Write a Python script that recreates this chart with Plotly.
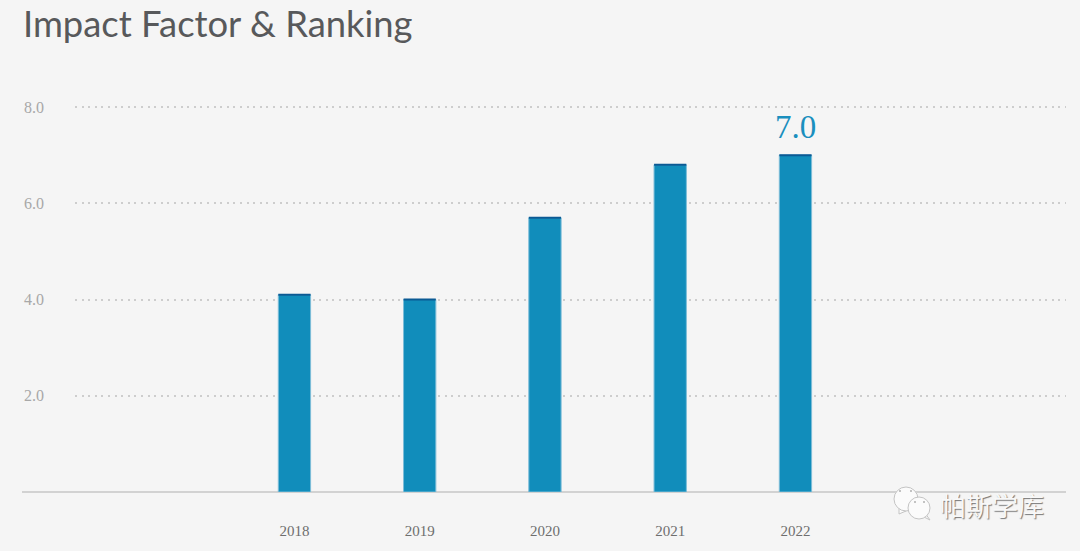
import plotly.graph_objects as go

years = ["2018", "2019", "2020", "2021", "2022"]
impact = [4.1, 4.0, 5.7, 6.8, 7.0]
label_year = "2022"
label_value = 7.0
label_text = "7.0"
y_ticks = [2, 4, 6, 8]
y_tick_labels = ["2.0", "4.0", "6.0", "8.0"]
title_text = "Impact Factor &amp; Ranking"
watermark_text = "帕斯学库"

W, H = 1080, 551
L, R, T, B = 75, 1066, 97, 492
PX_PER_UNIT = (492 - 107) / 8
px = lambda x: (x - L) / (R - L)
py = lambda y: (B - y) / (B - T)

fig = go.Figure()
fig.add_bar(x=years, y=impact, width=0.258,
            marker=dict(color="#118dbb", line=dict(color="#7dbdd8", width=1)),
            showlegend=False, hoverinfo="skip")
fig.add_scatter(x=years, y=impact, mode="markers",
                marker=dict(symbol="line-ew", size=23, color="#0b5a94",
                            line=dict(color="#0b5a94", width=2)),
                showlegend=False, hoverinfo="skip", cliponaxis=False)

shapes = [dict(type="line", xref="paper", yref="paper", x0=px(22), x1=px(1066), y0=0, y1=0,
               line=dict(color="#d2d2d2", width=2), layer="below")]

def bubble(cx, cy, r):
    return dict(type="circle", xref="paper", yref="paper",
                x0=px(cx - r), x1=px(cx + r), y0=py(cy + r), y1=py(cy - r),
                fillcolor="#fbfbfb", line=dict(color="#c4c4c4", width=1))

def tail(x0, y0, x1, y1, x2, y2):
    path = f"M {px(x0)} {py(y0)} L {px(x1)} {py(y1)} L {px(x2)} {py(y2)} Z"
    return dict(type="path", xref="paper", yref="paper", path=path,
                fillcolor="#fbfbfb", line=dict(color="#c4c4c4", width=1))

def dot(cx, cy):
    r = 1
    return dict(type="circle", xref="paper", yref="paper",
                x0=px(cx - r), x1=px(cx + r), y0=py(cy + r), y1=py(cy - r),
                fillcolor="#b0b0b0", line=dict(width=0))

shapes += [
    tail(899, 507, 899, 514, 906, 511),
    bubble(906, 499, 12),
    dot(900, 491), dot(911, 491),
    tail(925, 513, 930, 520, 924, 517),
    bubble(919, 508, 11),
    dot(915, 502), dot(924, 502),
]

fig.update_layout(
    width=W, height=H, autosize=False,
    margin=dict(l=L, r=W - R, t=T, b=H - B),
    paper_bgcolor="#f5f5f5", plot_bgcolor="#f5f5f5",
    shapes=shapes,
    xaxis=dict(type="category", range=[-1.752, 6.16], showgrid=False, zeroline=False,
               showline=False, ticks="", ticklabelstandoff=28,
               tickfont=dict(family="Liberation Serif", size=15, color="#6e6e6e")),
    yaxis=dict(range=[0, (B - T) / PX_PER_UNIT], tickvals=y_ticks, ticktext=y_tick_labels,
               zeroline=False, showline=False, ticks="", ticklabelstandoff=30,
               gridcolor="#cdcdcd", griddash="2px,4.6px", gridwidth=2,
               tickfont=dict(family="Liberation Serif", size=16, color="#a8a8a8")),
    annotations=[
        dict(text=label_text, xref="x", yref="y", x=years.index(label_year), y=label_value,
             yanchor="bottom", yshift=8, showarrow=False,
             font=dict(family="Liberation Serif", size=33, color="#1a8fbe")),
        dict(text=title_text, xref="paper", yref="paper", x=px(21), y=py(23),
             xanchor="left", yanchor="middle", showarrow=False,
             font=dict(family="Lato", size=36.4, color="#58595b")),
        dict(text=watermark_text, xref="paper", yref="paper", x=px(992), y=py(504),
             xanchor="center", yanchor="middle", showarrow=False,
             font=dict(family="Noto Sans CJK SC", size=26, color="#f8f8f8",
                       shadow="1px 1px 1px #777")),
    ],
)

fig.write_html("out.html", config={"displayModeBar": False},
               post_script="document.body.style.margin='0';")
